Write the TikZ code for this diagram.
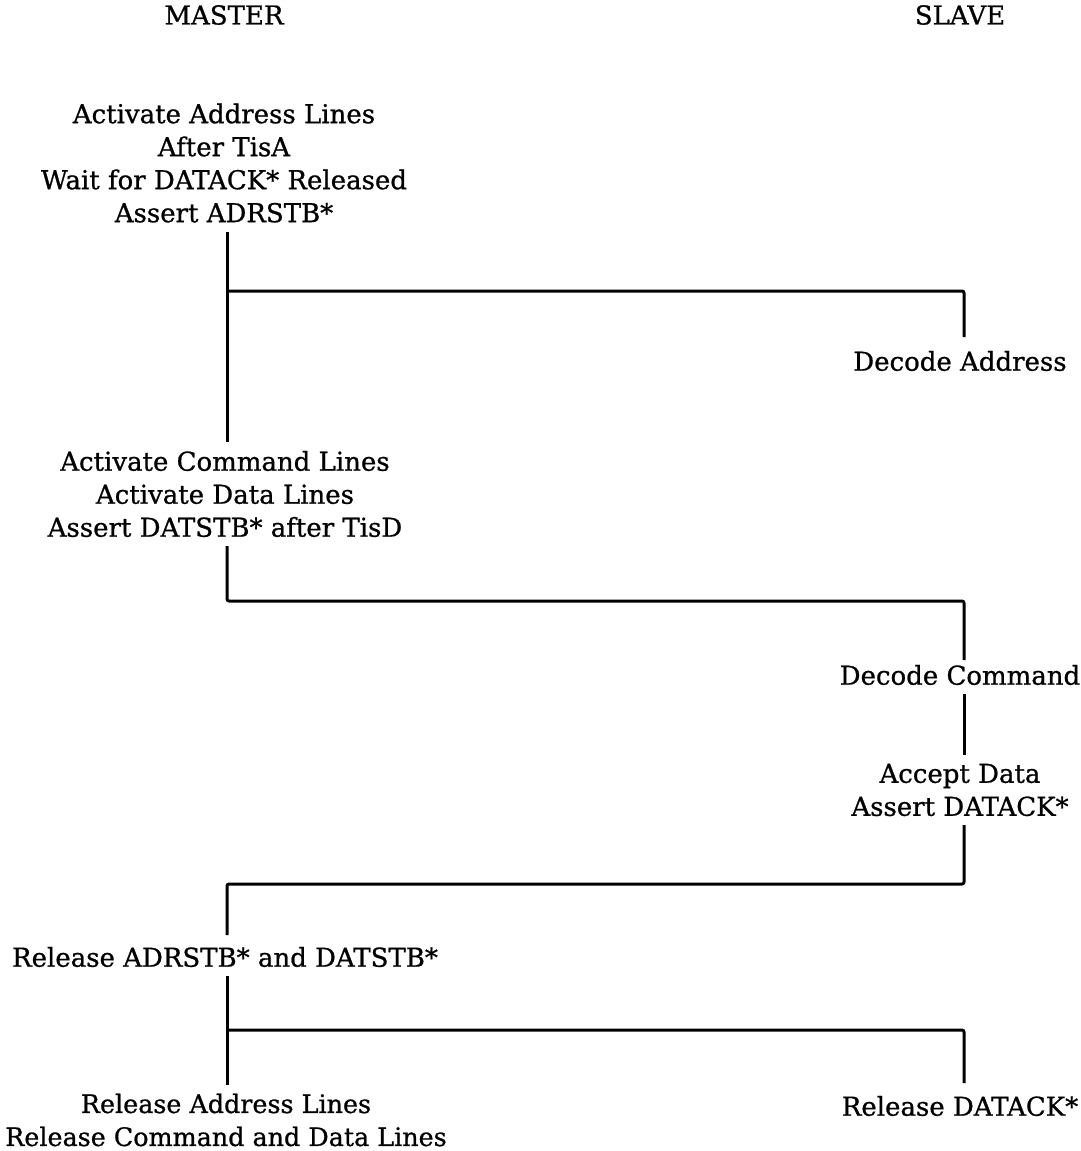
\documentclass[tikz,border=0pt]{standalone}
\usepackage{fontspec}
\setmainfont{DejaVu Serif}[FakeBold=0.8]
\begin{document}
\begin{tikzpicture}[x=1pt,y=-1pt,
  txt/.style={align=center,inner sep=0pt,outer ysep=9pt,font=\fontsize{26}{33}\selectfont},
  wire/.style={line width=3pt,line join=round,rounded corners=2pt}]
\useasboundingbox (0,0) rectangle (1080,1151);
\node[txt] (master) at (224,15) {MASTER};
\node[txt] (slave) at (960,15) {SLAVE};
\node[txt] (a1) at (224,163) {Activate Address Lines\\After TisA\\Wait for DATACK* Released\\Assert ADRSTB*};
\node[txt] (s1) at (960,361) {Decode Address};
\node[txt] (a2) at (225,494) {Activate Command Lines\\Activate Data Lines\\Assert DATSTB* after TisD};
\node[txt] (s2) at (960,675) {Decode Command};
\node[txt] (s3) at (960,790) {Accept Data\\Assert DATACK*};
\node[txt] (a3) at (225,957) {Release ADRSTB* and DATSTB*};
\node[txt,font=\fontsize{25.4}{33}\selectfont] (a4) at (226,1120) {Release Address Lines\\Release Command and Data Lines};
\node[txt] (s4) at (960,1106) {Release DATACK*};
\coordinate (b1) at (227,291);
\coordinate (b4) at (227,1030);
\draw[wire] (a1.south -| b1) -- (a2.north -| b1);
\draw[wire] (b1) -| (964,337) coordinate (e1);
\draw[wire] (a2.south -| b1) |- (964,601) -- (964,660) coordinate (e2);
\draw[wire] (s2.south -| e2) -- (s3.north -| e2);
\draw[wire] (s3.south -| e2) |- (227,884) -- (227,935) coordinate (e3);
\draw[wire] (a3.south -| b4) -- (a4.north -| b4);
\draw[wire] (b4) -| (964,1083) coordinate (e4);
\end{tikzpicture}
\end{document}
